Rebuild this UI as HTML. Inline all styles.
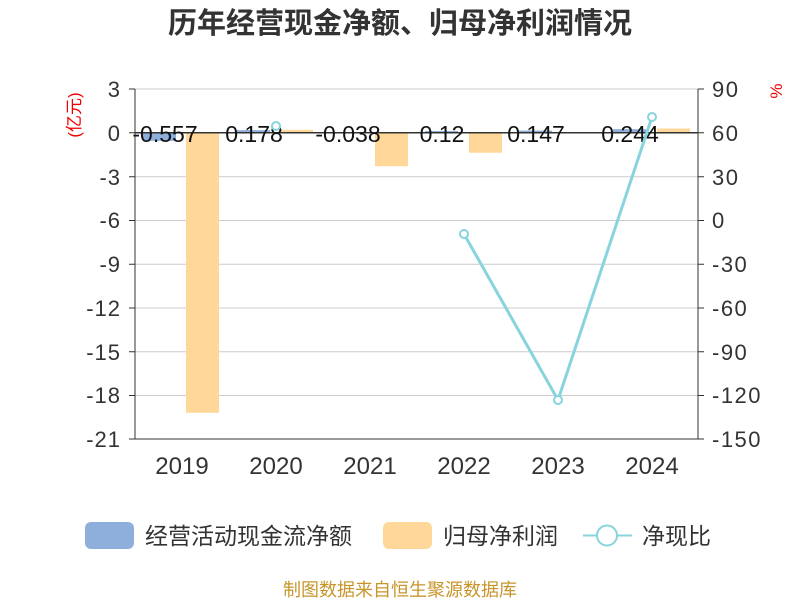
<!DOCTYPE html>
<html><head><meta charset="utf-8"><style>body{margin:0;background:#fff}svg{display:block}text{font-family:"Liberation Sans","Noto Sans CJK SC",sans-serif}</style></head>
<body>
<svg width="800" height="600" viewBox="0 0 800 600">
<text x="400" y="33" text-anchor="middle" font-size="29" font-weight="bold" fill="#333">历年经营现金净额、归母净利润情况</text>
<g stroke="#ccc" stroke-width="1">
<line x1="135" x2="698" y1="89" y2="89"/><line x1="135" x2="698" y1="176.75" y2="176.75"/>
<line x1="135" x2="698" y1="220.5" y2="220.5"/><line x1="135" x2="698" y1="264.25" y2="264.25"/>
<line x1="135" x2="698" y1="308" y2="308"/><line x1="135" x2="698" y1="351.75" y2="351.75"/>
<line x1="135" x2="698" y1="395.5" y2="395.5"/><line x1="135" x2="698" y1="439" y2="439"/>
</g>
<g fill="#8eaedb">
<rect x="143" y="132.75" width="33" height="8.1"/>
<rect x="237" y="130.15" width="33" height="2.6"/>
<rect x="331" y="132.75" width="33" height="0.6"/>
<rect x="425" y="131" width="33" height="1.75"/>
<rect x="519" y="130.6" width="33" height="2.15"/>
<rect x="613" y="129.2" width="33" height="3.55"/>
</g>
<g fill="#ffd899">
<rect x="186" y="132.75" width="33" height="280"/>
<rect x="280" y="129.8" width="33" height="2.95"/>
<rect x="375" y="132.75" width="33" height="33.5"/>
<rect x="469" y="132.75" width="33" height="20"/>
<rect x="563" y="132" width="33" height="1"/>
<rect x="657" y="128.5" width="33" height="4.25"/>
</g>
<line x1="135" x2="698" y1="132.75" y2="132.75" stroke="#333" stroke-width="1.5"/>
<g stroke="#333"><line x1="135" x2="135" y1="89" y2="439"/><line x1="698" x2="698" y1="89" y2="439"/>
<line x1="135" x2="698" y1="439" y2="439"/></g>
<g stroke="#333">
<line x1="129" x2="135" y1="89" y2="89"/><line x1="129" x2="135" y1="132.75" y2="132.75"/><line x1="129" x2="135" y1="176.75" y2="176.75"/><line x1="129" x2="135" y1="220.5" y2="220.5"/><line x1="129" x2="135" y1="264.25" y2="264.25"/><line x1="129" x2="135" y1="308" y2="308"/><line x1="129" x2="135" y1="351.75" y2="351.75"/><line x1="129" x2="135" y1="395.5" y2="395.5"/><line x1="129" x2="135" y1="439" y2="439"/>
<line x1="698" x2="704" y1="89" y2="89"/><line x1="698" x2="704" y1="132.75" y2="132.75"/><line x1="698" x2="704" y1="176.75" y2="176.75"/><line x1="698" x2="704" y1="220.5" y2="220.5"/><line x1="698" x2="704" y1="264.25" y2="264.25"/><line x1="698" x2="704" y1="308" y2="308"/><line x1="698" x2="704" y1="351.75" y2="351.75"/><line x1="698" x2="704" y1="395.5" y2="395.5"/><line x1="698" x2="704" y1="439" y2="439"/>
</g>
<g font-size="22" fill="#333" text-anchor="end" letter-spacing="1">
<text x="121" y="97">3</text><text x="121" y="141">0</text><text x="121" y="185">-3</text><text x="121" y="228">-6</text><text x="121" y="272">-9</text><text x="121" y="316">-12</text><text x="121" y="360">-15</text><text x="121" y="403">-18</text><text x="121" y="447">-21</text>
</g>
<g font-size="22" fill="#333" text-anchor="start" letter-spacing="1.5">
<text x="712" y="97">90</text><text x="712" y="141">60</text><text x="712" y="185">30</text><text x="712" y="228">0</text><text x="712" y="272">-30</text><text x="712" y="316">-60</text><text x="712" y="360">-90</text><text x="712" y="403">-120</text><text x="712" y="447">-150</text>
</g>
<text transform="translate(80,115) rotate(-90)" font-size="17" fill="#e00" text-anchor="middle">(亿元)</text>
<text transform="translate(782,91) rotate(-90)" font-size="17" fill="#e00" text-anchor="middle">%</text>
<g font-size="24" fill="#333" text-anchor="middle">
<text x="182" y="474">2019</text><text x="276" y="474">2020</text><text x="370" y="474">2021</text><text x="464" y="474">2022</text><text x="558" y="474">2023</text><text x="652" y="474">2024</text>
</g>
<g font-size="23" fill="#111" text-anchor="middle">
<text x="165" y="142">-0.557</text><text x="254" y="142">0.178</text><text x="348" y="142">-0.038</text><text x="442" y="142">0.12</text><text x="536" y="142">0.147</text><text x="630" y="142">0.244</text>
</g>
<polyline points="464,234 558,400 652,117" fill="none" stroke="#87d4dc" stroke-width="3"/>
<g fill="#fff" stroke="#87d4dc" stroke-width="2">
<circle cx="276" cy="126" r="4"/><circle cx="464" cy="234" r="4"/><circle cx="558" cy="400" r="4"/><circle cx="652" cy="117" r="4"/>
</g>
<rect x="85" y="522" width="49" height="27" rx="6" fill="#8eaedb"/>
<text x="145" y="544" font-size="23" fill="#333">经营活动现金流净额</text>
<rect x="383" y="522" width="49" height="27" rx="6" fill="#ffd899"/>
<text x="443" y="544" font-size="23" fill="#333">归母净利润</text>
<line x1="583" x2="632" y1="535.5" y2="535.5" stroke="#87d4dc" stroke-width="2"/>
<circle cx="607" cy="535.5" r="10" fill="#fff" stroke="#87d4dc" stroke-width="2"/>
<text x="642" y="544" font-size="23" fill="#333">净现比</text>
<text x="400" y="596" text-anchor="middle" font-size="18" fill="#c8952a">制图数据来自恒生聚源数据库</text>
</svg>
</body></html>
